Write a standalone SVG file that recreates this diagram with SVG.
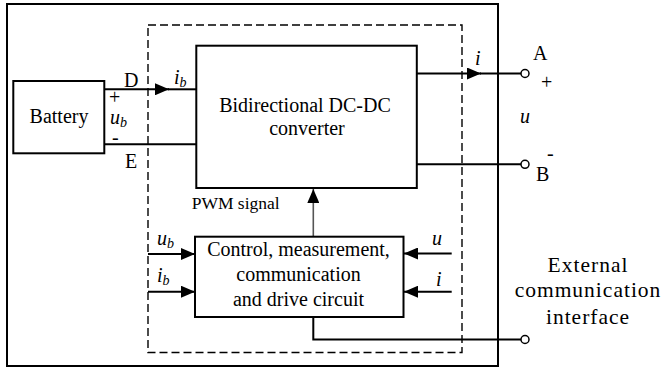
<svg xmlns="http://www.w3.org/2000/svg" width="662" height="368" viewBox="0 0 662 368" font-family="'Liberation Serif', 'DejaVu Serif', serif">
<style>
.box{fill:none;stroke:#000;stroke-width:2}
.dash{fill:none;stroke:#000;stroke-width:1.4;stroke-dasharray:8 4}
.w{fill:none;stroke:#000;stroke-width:2}
.g{fill:none;stroke:#555;stroke-width:1.6}
text{font-family:'Liberation Serif','DejaVu Serif',serif;font-size:20px;fill:#000}
.it{font-style:italic}
.sub{font-size:14px}
.ext{font-size:21.5px;letter-spacing:1px}
.term{fill:#fff;stroke:#000;stroke-width:1.5}
</style>
<defs>
<marker id="ah" markerUnits="userSpaceOnUse" markerWidth="14" markerHeight="12" refX="14" refY="6" orient="auto">
<path d="M0,0 L14,6 L0,12 z" fill="#000"/>
</marker>
</defs>
<rect id="outer" class="box" x="7" y="4" width="491" height="362"/>
<rect id="dashed-boundary" class="dash" x="148" y="25" width="314" height="327.5"/>
<g id="connectors">
<line class="w" x1="104" y1="89.3" x2="169" y2="89.3" marker-end="url(#ah)"/>
<line class="w" x1="168" y1="89.3" x2="196" y2="89.3"/>
<line class="w" x1="104" y1="144.3" x2="196" y2="144.3"/>
<line class="w" x1="417" y1="73.5" x2="481" y2="73.5" marker-end="url(#ah)"/>
<line class="w" x1="480" y1="73.5" x2="521" y2="73.5"/>
<line class="w" x1="417" y1="164.3" x2="521" y2="164.3"/>
<line class="g" x1="313.3" y1="236.5" x2="313.3" y2="189" marker-end="url(#ah)"/>
<line class="w" x1="148" y1="254" x2="195" y2="254" marker-end="url(#ah)"/>
<line class="w" x1="148" y1="291.7" x2="195" y2="291.7" marker-end="url(#ah)"/>
<line class="w" x1="451.7" y1="253.5" x2="404" y2="253.5" marker-end="url(#ah)"/>
<line class="w" x1="451.7" y1="291.7" x2="404" y2="291.7" marker-end="url(#ah)"/>
<polyline class="w" points="313.3,317 313.3,339.5 521,339.5"/>
</g>
<g id="battery">
<rect class="box" x="13.3" y="81" width="91" height="72.3"/>
<text x="59" y="123" text-anchor="middle">Battery</text>
</g>
<g id="converter">
<rect class="box" x="196.3" y="45.7" width="220.5" height="142.3"/>
<text x="305" y="111.5" text-anchor="middle">Bidirectional DC-DC</text>
<text x="307" y="135" text-anchor="middle">converter</text>
</g>
<g id="control">
<rect class="box" x="195" y="236.7" width="208.5" height="80.3"/>
<text x="298.5" y="256" text-anchor="middle">Control, measurement,</text>
<text x="298.5" y="281" text-anchor="middle">communication</text>
<text x="298.5" y="305.5" text-anchor="middle">and drive circuit</text>
</g>
<g id="terminal-A">
<circle class="term" cx="525" cy="73.5" r="4"/>
<text x="533" y="60">A</text>
<text x="541" y="88.5">+</text>
</g>
<g id="terminal-B">
<circle class="term" cx="525" cy="164.3" r="4"/>
<text x="547" y="159.5">-</text>
<text x="536" y="180.5">B</text>
</g>
<g id="external-interface">
<circle class="term" cx="525" cy="339.5" r="4"/>
<text class="ext" x="588" y="272" text-anchor="middle">External</text>
<text class="ext" x="588" y="297" text-anchor="middle">communication</text>
<text class="ext" x="588" y="324" text-anchor="middle">interface</text>
</g>
<g id="labels">
<text x="124" y="87">D</text>
<text class="it" x="174" y="84">i<tspan class="sub" dy="3">b</tspan></text>
<text x="109" y="104">+</text>
<text class="it" x="110" y="124">u<tspan class="sub" dy="3">b</tspan></text>
<text x="112" y="143.5">-</text>
<text x="125" y="168">E</text>
<text class="it" x="475" y="65">i</text>
<text class="it" x="520" y="123">u</text>
<text x="191.7" y="209" style="font-size:17.5px">PWM signal</text>
<text class="it" x="157" y="245">u<tspan class="sub" dy="3">b</tspan></text>
<text class="it" x="157" y="282">i<tspan class="sub" dy="3">b</tspan></text>
<text class="it" x="432" y="245">u</text>
<text class="it" x="436" y="286">i</text>
</g>
</svg>
